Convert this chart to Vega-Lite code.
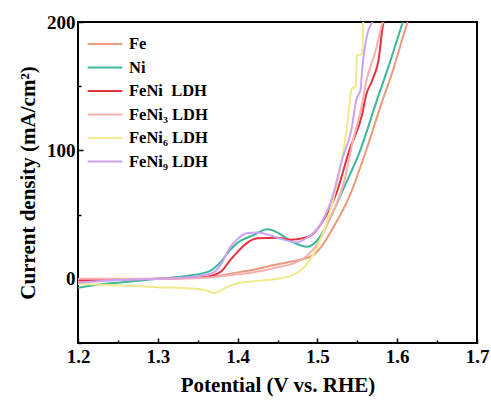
{
  "$schema": "https://vega.github.io/schema/vega-lite/v6.json",
  "width": 399,
  "height": 321,
  "autosize": {"type": "none"},
  "padding": {"left": 78, "top": 22, "right": 14, "bottom": 59},
  "background": "white",
  "config": {
    "view": {"stroke": "black", "strokeWidth": 2},
    "font": "Liberation Serif"
  },
  "datasets": {
    "curves": [
      {"s": "Fe", "x": 1.2, "y": -2}, {"s": "Fe", "x": 1.25, "y": -1}, {"s": "Fe", "x": 1.3, "y": 0}, {"s": "Fe", "x": 1.35, "y": 1}, {"s": "Fe", "x": 1.38, "y": 2.5}, {"s": "Fe", "x": 1.4, "y": 5}, {"s": "Fe", "x": 1.42, "y": 7}, {"s": "Fe", "x": 1.44, "y": 10}, {"s": "Fe", "x": 1.46, "y": 12.5}, {"s": "Fe", "x": 1.48, "y": 15}, {"s": "Fe", "x": 1.496, "y": 19}, {"s": "Fe", "x": 1.505, "y": 25}, {"s": "Fe", "x": 1.519, "y": 39}, {"s": "Fe", "x": 1.54, "y": 64}, {"s": "Fe", "x": 1.56, "y": 98}, {"s": "Fe", "x": 1.58, "y": 136}, {"s": "Fe", "x": 1.596, "y": 165}, {"s": "Fe", "x": 1.606, "y": 186}, {"s": "Fe", "x": 1.613, "y": 200},
      {"s": "Ni", "x": 1.2, "y": -7}, {"s": "Ni", "x": 1.22, "y": -5}, {"s": "Ni", "x": 1.25, "y": -3}, {"s": "Ni", "x": 1.3, "y": 0}, {"s": "Ni", "x": 1.34, "y": 2.5}, {"s": "Ni", "x": 1.365, "y": 6}, {"s": "Ni", "x": 1.38, "y": 14}, {"s": "Ni", "x": 1.39, "y": 22}, {"s": "Ni", "x": 1.4, "y": 28}, {"s": "Ni", "x": 1.42, "y": 34}, {"s": "Ni", "x": 1.4375, "y": 38.5}, {"s": "Ni", "x": 1.45, "y": 36}, {"s": "Ni", "x": 1.465, "y": 30}, {"s": "Ni", "x": 1.4875, "y": 25}, {"s": "Ni", "x": 1.5, "y": 30}, {"s": "Ni", "x": 1.515, "y": 46}, {"s": "Ni", "x": 1.534, "y": 72}, {"s": "Ni", "x": 1.5525, "y": 98}, {"s": "Ni", "x": 1.574, "y": 138}, {"s": "Ni", "x": 1.59, "y": 167}, {"s": "Ni", "x": 1.607, "y": 200},
      {"s": "FeNi  LDH", "x": 1.2, "y": -1}, {"s": "FeNi  LDH", "x": 1.3, "y": 0}, {"s": "FeNi  LDH", "x": 1.35, "y": 1}, {"s": "FeNi  LDH", "x": 1.365, "y": 2}, {"s": "FeNi  LDH", "x": 1.38, "y": 6}, {"s": "FeNi  LDH", "x": 1.39, "y": 14}, {"s": "FeNi  LDH", "x": 1.4, "y": 21}, {"s": "FeNi  LDH", "x": 1.41, "y": 27}, {"s": "FeNi  LDH", "x": 1.425, "y": 31.5}, {"s": "FeNi  LDH", "x": 1.45, "y": 32}, {"s": "FeNi  LDH", "x": 1.467, "y": 30.5}, {"s": "FeNi  LDH", "x": 1.49, "y": 33}, {"s": "FeNi  LDH", "x": 1.506, "y": 44}, {"s": "FeNi  LDH", "x": 1.524, "y": 67}, {"s": "FeNi  LDH", "x": 1.54, "y": 100}, {"s": "FeNi  LDH", "x": 1.556, "y": 128}, {"s": "FeNi  LDH", "x": 1.561, "y": 143}, {"s": "FeNi  LDH", "x": 1.569, "y": 155}, {"s": "FeNi  LDH", "x": 1.5775, "y": 174}, {"s": "FeNi  LDH", "x": 1.581, "y": 193}, {"s": "FeNi  LDH", "x": 1.583, "y": 200},
      {"s": "FeNi₃ LDH", "x": 1.2, "y": 0}, {"s": "FeNi₃ LDH", "x": 1.3, "y": 0}, {"s": "FeNi₃ LDH", "x": 1.35, "y": 0.5}, {"s": "FeNi₃ LDH", "x": 1.4, "y": 3.5}, {"s": "FeNi₃ LDH", "x": 1.43, "y": 6}, {"s": "FeNi₃ LDH", "x": 1.45, "y": 9}, {"s": "FeNi₃ LDH", "x": 1.47, "y": 12}, {"s": "FeNi₃ LDH", "x": 1.485, "y": 17}, {"s": "FeNi₃ LDH", "x": 1.5, "y": 27}, {"s": "FeNi₃ LDH", "x": 1.515, "y": 46}, {"s": "FeNi₃ LDH", "x": 1.534, "y": 77}, {"s": "FeNi₃ LDH", "x": 1.544, "y": 106}, {"s": "FeNi₃ LDH", "x": 1.555, "y": 133}, {"s": "FeNi₃ LDH", "x": 1.561, "y": 153}, {"s": "FeNi₃ LDH", "x": 1.574, "y": 180}, {"s": "FeNi₃ LDH", "x": 1.58, "y": 196}, {"s": "FeNi₃ LDH", "x": 1.582, "y": 200},
      {"s": "FeNi₆ LDH", "x": 1.2, "y": -4}, {"s": "FeNi₆ LDH", "x": 1.25, "y": -5}, {"s": "FeNi₆ LDH", "x": 1.3, "y": -6.5}, {"s": "FeNi₆ LDH", "x": 1.34, "y": -7.5}, {"s": "FeNi₆ LDH", "x": 1.36, "y": -9}, {"s": "FeNi₆ LDH", "x": 1.371, "y": -11}, {"s": "FeNi₆ LDH", "x": 1.385, "y": -7}, {"s": "FeNi₆ LDH", "x": 1.4, "y": -3.5}, {"s": "FeNi₆ LDH", "x": 1.42, "y": -2}, {"s": "FeNi₆ LDH", "x": 1.45, "y": 0}, {"s": "FeNi₆ LDH", "x": 1.47, "y": 3}, {"s": "FeNi₆ LDH", "x": 1.48, "y": 7}, {"s": "FeNi₆ LDH", "x": 1.49, "y": 14}, {"s": "FeNi₆ LDH", "x": 1.5, "y": 25}, {"s": "FeNi₆ LDH", "x": 1.519, "y": 60}, {"s": "FeNi₆ LDH", "x": 1.53, "y": 91}, {"s": "FeNi₆ LDH", "x": 1.5375, "y": 120}, {"s": "FeNi₆ LDH", "x": 1.543, "y": 148}, {"s": "FeNi₆ LDH", "x": 1.548, "y": 150}, {"s": "FeNi₆ LDH", "x": 1.5495, "y": 174}, {"s": "FeNi₆ LDH", "x": 1.556, "y": 175}, {"s": "FeNi₆ LDH", "x": 1.5575, "y": 200},
      {"s": "FeNi₉ LDH", "x": 1.2, "y": -3}, {"s": "FeNi₉ LDH", "x": 1.25, "y": -1}, {"s": "FeNi₉ LDH", "x": 1.3, "y": 0}, {"s": "FeNi₉ LDH", "x": 1.35, "y": 2}, {"s": "FeNi₉ LDH", "x": 1.37, "y": 5}, {"s": "FeNi₉ LDH", "x": 1.38, "y": 12}, {"s": "FeNi₉ LDH", "x": 1.39, "y": 24}, {"s": "FeNi₉ LDH", "x": 1.4, "y": 31}, {"s": "FeNi₉ LDH", "x": 1.411, "y": 35.5}, {"s": "FeNi₉ LDH", "x": 1.425, "y": 36}, {"s": "FeNi₉ LDH", "x": 1.44, "y": 34}, {"s": "FeNi₉ LDH", "x": 1.455, "y": 31}, {"s": "FeNi₉ LDH", "x": 1.474, "y": 28.5}, {"s": "FeNi₉ LDH", "x": 1.487, "y": 32}, {"s": "FeNi₉ LDH", "x": 1.5025, "y": 41}, {"s": "FeNi₉ LDH", "x": 1.519, "y": 64}, {"s": "FeNi₉ LDH", "x": 1.531, "y": 93}, {"s": "FeNi₉ LDH", "x": 1.5425, "y": 116}, {"s": "FeNi₉ LDH", "x": 1.549, "y": 140}, {"s": "FeNi₉ LDH", "x": 1.554, "y": 147}, {"s": "FeNi₉ LDH", "x": 1.556, "y": 162}, {"s": "FeNi₉ LDH", "x": 1.561, "y": 186}, {"s": "FeNi₉ LDH", "x": 1.569, "y": 200}
    ]
  },
  "data": {"name": "curves"},
  "mark": {"type": "line", "interpolate": "monotone", "strokeWidth": 2, "clip": true},
  "encoding": {
    "x": {
      "field": "x", "type": "quantitative",
      "scale": {"domain": [1.2, 1.7], "nice": false, "zero": false},
      "axis": {
        "title": "Potential (V vs. RHE)",
        "titleFont": "Liberation Serif", "titleFontSize": 21, "titleFontWeight": "bold", "titleColor": "black", "titlePadding": 8,
        "values": [1.2, 1.25, 1.3, 1.35, 1.4, 1.45, 1.5, 1.55, 1.6, 1.65, 1.7],
        "labelExpr": "abs(datum.value*10 - round(datum.value*10)) < 0.01 ? format(datum.value, '.1f') : ''",
        "labelFont": "Liberation Serif", "labelFontSize": 19, "labelFontWeight": "bold", "labelColor": "black", "labelPadding": 9,
        "labelFlush": false,
        "grid": false, "domain": false,
        "tickColor": "black", "tickWidth": 1.5,
        "tickSize": {"condition": {"test": "abs(datum.value*10 - round(datum.value*10)) < 0.01", "value": -5}, "value": -3}
      }
    },
    "y": {
      "field": "y", "type": "quantitative",
      "scale": {"domain": [-50, 200], "nice": false, "zero": false},
      "axis": {
        "title": "Current density (mA/cm²)",
        "titleFont": "Liberation Serif", "titleFontSize": 21, "titleFontWeight": "bold", "titleColor": "black", "titlePadding": 8,
        "values": [-50, 0, 50, 100, 150, 200],
        "labelExpr": "datum.value % 100 == 0 ? format(datum.value, 'd') : ''",
        "labelFont": "Liberation Serif", "labelFontSize": 19, "labelFontWeight": "bold", "labelColor": "black", "labelPadding": 8,
        "labelFlush": false,
        "grid": false, "domain": false,
        "tickColor": "black", "tickWidth": 1.5,
        "tickSize": {"condition": {"test": "datum.value % 100 == 0", "value": -5}, "value": -3}
      }
    },
    "color": {
      "field": "s", "type": "nominal",
      "scale": {
        "domain": ["Fe", "Ni", "FeNi  LDH", "FeNi₃ LDH", "FeNi₆ LDH", "FeNi₉ LDH"],
        "range": ["#E99A78", "#3DB79B", "#E6323E", "#F7B0B0", "#EFEA8A", "#CDA2F3"]
      },
      "legend": {
        "title": null, "orient": "none", "legendX": 17, "legendY": 12,
        "symbolType": "M-2,0H2", "symbolSize": 300, "symbolStrokeWidth": 2,
        "labelExpr": "replace(datum.label, '  ', '\u00a0 ')",
        "labelFont": "Liberation Serif", "labelFontSize": 16.5, "labelFontWeight": "bold", "labelColor": "black",
        "rowPadding": 4.5, "labelOffset": 14
      }
    }
  }
}
